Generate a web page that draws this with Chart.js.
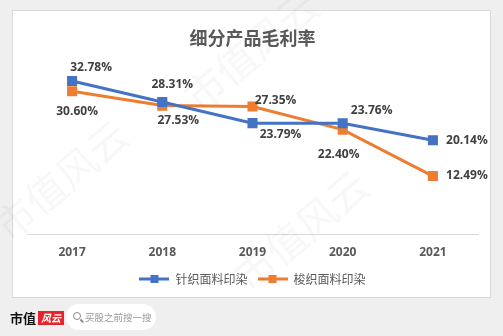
<!DOCTYPE html>
<html>
<head>
<meta charset="utf-8">
<script src="https://cdn.jsdelivr.net/npm/chart.js@4/dist/chart.umd.min.js"></script>
<style>
  body { margin: 0; background: #efefef; font-family: "Noto Sans CJK SC", "Noto Sans", sans-serif; }
  #page { position: relative; width: 503px; height: 336px; overflow: hidden; }
  #box { position: absolute; left: 12px; top: 10px; width: 477px; height: 286px; background: #fff; border: 1px solid #d9d9d9; }
  #wrap { position: absolute; left: 0; top: 0; width: 477px; height: 286px; }
  .wm { position: absolute; color: rgba(0,0,0,0.03); font-size: 40px; transform: rotate(-40deg); white-space: nowrap; pointer-events: none; }
  #logo { position: absolute; left: 10px; top: 310px; font-size: 13px; font-weight: bold; color: #111; font-family: "Noto Sans CJK SC", serif; line-height: 16px; }
  #logo span { display: inline-block; background: #e8242b; color: #fff; font-style: italic; font-size: 10px; padding: 0 3px; margin-left: 2px; line-height: 14px; vertical-align: 1px; }
  #search { position: absolute; left: 66px; top: 304px; width: 90px; height: 26px; background: #fff; border-radius: 13px; font-size: 9.5px; color: #999; line-height: 26px; }
  #search i { position: absolute; left: 7px; top: 8px; width: 6px; height: 6px; border: 1.5px solid #888; border-radius: 50%; }
  #search i:after { content: ""; position: absolute; left: 6px; top: 7px; width: 4px; height: 1.5px; background: #888; transform: rotate(45deg); }
  #search b { position: absolute; left: 19px; font-weight: normal; }
</style>
</head>
<body>
<div id="page">
  <div id="box">
    <div id="wrap"><canvas id="Chart_margin"></canvas></div>
  </div>
  <div class="wm" style="left:170px;top:20px;">市值风云</div>
  <div class="wm" style="left:-20px;top:150px;">市值风云</div>
  <div class="wm" style="left:220px;top:200px;">市值风云</div>
  <div id="logo">市值<span>风云</span></div>
  <div id="search"><i></i><b>买股之前搜一搜</b></div>
</div>
<script>
  // 연도, 시리즈 값 (%)
  var years = ["2017", "2018", "2019", "2020", "2021"];
  var knitted = [32.78, 28.31, 23.79, 23.76, 20.14];
  var woven = [30.60, 27.53, 27.35, 22.40, 12.49];
  var seriesNames = ["针织面料印染", "梭织面料印染"];

  // 라벨 위치 (점 기준 오프셋)
  var labelOffsets = [
    [[19, -13], [10, -17], [28, 11], [29, -13], [34, 0]],
    [[5, 20], [16, 15], [23, -6], [-4, 25], [34, 0]]
  ];

  function legendIcon(color) {
    var c = document.createElement("canvas");
    c.width = 30; c.height = 10;
    var g = c.getContext("2d");
    g.strokeStyle = color; g.lineWidth = 3;
    g.beginPath(); g.moveTo(0, 5); g.lineTo(30, 5); g.stroke();
    g.fillStyle = color; g.fillRect(11, 1, 8, 8);
    return c;
  }

  var valueLabels = {
    id: "valueLabels",
    afterDatasetsDraw: function(chart) {
      var ctx = chart.ctx;
      ctx.save();
      ctx.font = "bold 12px 'Open Sans', 'DejaVu Sans', sans-serif";
      ctx.fillStyle = "#404040";
      ctx.textAlign = "center";
      ctx.textBaseline = "middle";
      chart.data.datasets.forEach(function(ds, i) {
        chart.getDatasetMeta(i).data.forEach(function(pt, j) {
          var o = labelOffsets[i][j];
          ctx.fillText(ds.data[j].toFixed(2) + "%", pt.x + o[0], pt.y + o[1]);
        });
      });
      ctx.restore();
    }
  };

  const ctx1 = document.getElementById("Chart_margin").getContext("2d");
  Chart_margin = new Chart(ctx1, {
    type: "line",
    data: {
      labels: years,
      datasets: [
        {
          label: seriesNames[0],
          data: knitted,
          borderColor: "#4472C4",
          backgroundColor: "#4472C4",
          borderWidth: 3,
          pointStyle: "rect",
          pointRadius: 5,
          pointHoverRadius: 5,
          tension: 0
        },
        {
          label: seriesNames[1],
          data: woven,
          borderColor: "#ED7D31",
          backgroundColor: "#ED7D31",
          borderWidth: 3,
          pointStyle: "rect",
          pointRadius: 5,
          pointHoverRadius: 5,
          tension: 0
        }
      ]
    },
    options: {
      responsive: true,
      maintainAspectRatio: false,
      animation: false,
      layout: { padding: { left: 14, right: 12, top: 0, bottom: 2 } },
      plugins: {
        title: {
          display: true,
          text: "细分产品毛利率",
          color: "#595959",
          font: { size: 18, weight: "bold", family: "'Noto Sans CJK SC', sans-serif" },
          padding: { top: 16, bottom: 22 }
        },
        legend: {
          position: "bottom",
          labels: {
            color: "#595959",
            font: { size: 12, family: "'Noto Sans CJK SC', sans-serif" },
            usePointStyle: true,
            pointStyleWidth: 30,
            boxHeight: 10,
            padding: 10,
            generateLabels: function(chart) {
              var items = Chart.defaults.plugins.legend.labels.generateLabels(chart);
              items.forEach(function(it, i) {
                it.pointStyle = legendIcon(chart.data.datasets[i].borderColor);
              });
              return items;
            }
          }
        },
        tooltip: { enabled: false }
      },
      scales: {
        x: {
          offset: true,
          grid: { display: false },
          border: { display: true, color: "#d9d9d9", width: 1 },
          ticks: { color: "#595959", font: { size: 12, weight: "bold", family: "'Open Sans', sans-serif" }, padding: 3 }
        },
        y: {
          display: false,
          min: 0,
          max: 35
        }
      }
    },
    plugins: [valueLabels]
  });
</script>
</body>
</html>
